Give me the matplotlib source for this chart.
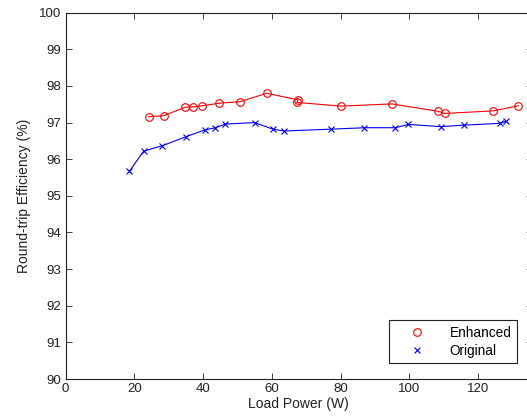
import matplotlib
matplotlib.use('Agg')
import matplotlib.pyplot as plt

# values
enhanced_power = [24.2, 28.6, 34.8, 37.2, 39.8, 44.7, 50.7, 58.5, 67.6, 67.3,
                  80.1, 94.9, 108.2, 110.3, 124.4, 131.6]
enhanced_eff = [97.16, 97.19, 97.42, 97.43, 97.46, 97.53, 97.57, 97.80, 97.62, 97.55,
                97.45, 97.51, 97.31, 97.25, 97.32, 97.46]

original_power = [18.6, 22.7, 28.2, 34.9, 40.5, 43.6, 46.5, 55.0, 60.3, 63.6,
                  77.1, 86.9, 95.9, 99.7, 109.1, 115.9, 126.4, 128.0]
original_eff = [95.67, 96.22, 96.37, 96.61, 96.80, 96.86, 96.96, 97.00, 96.82, 96.77,
                96.82, 96.86, 96.86, 96.95, 96.89, 96.93, 96.98, 97.04]

xticks = [0, 20, 40, 60, 80, 100, 120]
yticks = list(range(90, 101))

plt.rcParams['font.family'] = ['Liberation Sans', 'DejaVu Sans']

fig = plt.figure(figsize=(5.27, 4.19), dpi=100)
# right edge falls just outside the image, as in the cropped original
ax = fig.add_axes([65.5 / 527, 40 / 419, 466 / 527, 366.3 / 419])

ax.plot(enhanced_power, enhanced_eff, color='red', marker='o', markersize=5.5,
        markerfacecolor='none', markeredgewidth=0.8, linewidth=0.8, label='Enhanced')
ax.plot(original_power, original_eff, color='blue', marker='x', markersize=5,
        markeredgewidth=0.8, linewidth=0.8, label='Original')

ax.set_xlim(0, 135.5)
ax.set_ylim(90, 100)
ax.set_xticks(xticks)
ax.set_yticks(yticks)
ax.tick_params(direction='in', length=4, width=0.6, top=True, right=True,
               colors='#222222', labelsize=9.5, pad=3)
for s in ax.spines.values():
    s.set_linewidth(0.8)
    s.set_color('#222222')

ax.set_xlabel('Load Power (W)', fontsize=10, labelpad=1, color='#222222')
ax.set_ylabel('Round-trip Efficiency (%)', fontsize=10, labelpad=6, color='#222222')

leg = ax.legend(loc='lower right', bbox_to_anchor=(0.975, 0.036), fancybox=False,
                edgecolor='#222222', framealpha=1, fontsize=9.8, handlelength=3.4,
                labelspacing=0.3, borderpad=0.4, handletextpad=0.7, borderaxespad=0.2)
leg.get_frame().set_linewidth(0.8)
for h in leg.get_lines():
    h.set_linestyle('none')

fig.savefig('out.png', dpi=100)
